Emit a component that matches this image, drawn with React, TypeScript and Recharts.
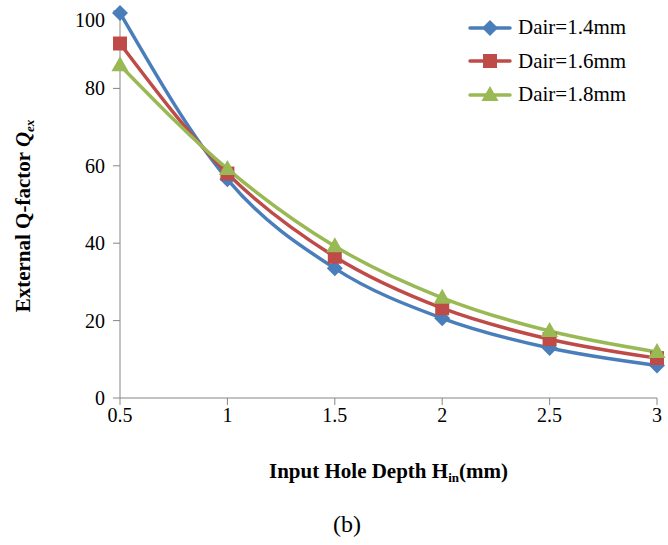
import { LineChart, Line, XAxis, YAxis, Legend, Label } from "recharts";

// input hole depth H_in (mm)
const depths = [0.5, 1, 1.5, 2, 2.5, 3];
// external Q-factor for each air gap
const dair14 = [99.5, 56.5, 33.5, 20.6, 12.9, 8.4];
const dair16 = [91.6, 58.0, 36.5, 23.2, 15.2, 10.3];
const dair18 = [86.0, 59.2, 39.2, 25.9, 17.3, 11.9];
const xTicks = [0.5, 1, 1.5, 2, 2.5, 3];
const yTicks = [0, 20, 40, 60, 80, 100];

const seriesNames = ["Dair=1.4mm", "Dair=1.6mm", "Dair=1.8mm"];
const colors = ["#4A7EBB", "#BE4B48", "#98B954"];

const data = depths.map((d, i) => ({
  depth: d,
  a: dair14[i],
  b: dair16[i],
  c: dair18[i],
}));

const FONT = "Liberation Serif, Times New Roman, serif";

function Marker({ cx, cy, shape, color }: any) {
  if (cx == null || cy == null) return null;
  if (shape === "diamond") {
    const r = 8;
    return <path d={`M${cx},${cy - r}L${cx + r},${cy}L${cx},${cy + r}L${cx - r},${cy}Z`} fill={color} />;
  }
  if (shape === "square") {
    const r = 7;
    return <rect x={cx - r} y={cy - r} width={r * 2} height={r * 2} fill={color} />;
  }
  const h = 15;
  return <path d={`M${cx},${cy - h * 0.6}L${cx + 8.5},${cy + h * 0.4}L${cx - 8.5},${cy + h * 0.4}Z`} fill={color} />;
}

const shapes = ["diamond", "square", "triangle"];

function XTick({ x, y, payload }: any) {
  return (
    <g>
      <line x1={x} x2={x} y1={y - 8} y2={y - 1} stroke="#868686" />
      <text x={x} y={y + 16} textAnchor="middle" fontFamily={FONT} fontSize={20} fill="#000">
        {payload.value}
      </text>
    </g>
  );
}

function YTick({ x, y, payload }: any) {
  // the top label sits a little lower in the original
  const dy = payload.value === 100 ? 9 : 0;
  return (
    <text x={x - 6} y={y + 7 + dy} textAnchor="end" fontFamily={FONT} fontSize={20} fill="#000">
      {payload.value}
    </text>
  );
}

function LegendBox() {
  return (
    <div style={{ fontFamily: FONT, fontSize: 21, color: "#000" }}>
      {seriesNames.map((n, i) => (
        <div key={n} style={{ display: "flex", alignItems: "center", height: 33.5 }}>
          <svg width={44} height={20} style={{ marginRight: 6 }}>
            <line x1={2} x2={42} y1={10} y2={10} stroke={colors[i]} strokeWidth={3.5} strokeLinecap="round" />
            <Marker cx={22} cy={10} shape={shapes[i]} color={colors[i]} />
          </svg>
          <span>{n}</span>
        </div>
      ))}
    </div>
  );
}

export default function App() {
  return (
    <div style={{ position: "absolute", left: 0, top: 0, background: "#fff" }}>
      <LineChart width={668} height={545} data={data} margin={{ top: 11, right: 11, left: 0, bottom: 117 }}>
        <XAxis
          dataKey="depth"
          type="number"
          domain={[0.5, 3]}
          ticks={xTicks}
          stroke="#868686"
          tickLine={false}
          tick={<XTick />}
          height={30}
        >
          <Label
            content={({ viewBox }: any) => (
              <g fontFamily={FONT} fill="#000">
                <text x={viewBox.x + viewBox.width / 2} y={viewBox.y + 80} textAnchor="middle" fontSize={21} fontWeight="bold">
                  Input Hole Depth H
                  <tspan fontSize={13} dy={4}>in</tspan>
                  <tspan dy={-4}>(mm)</tspan>
                </text>
                <text x={347} y={viewBox.y + 134} textAnchor="middle" fontSize={24}>
                  (b)
                </text>
              </g>
            )}
          />
        </XAxis>
        <YAxis
          domain={[0, 100]}
          ticks={yTicks}
          width={120}
          stroke="#868686"
          tickSize={7}
          tick={<YTick />}
        >
          <Label
            content={() => (
              <text
                transform="translate(30,216) rotate(-90)"
                textAnchor="middle"
                fontFamily={FONT}
                fontSize={21}
                fontWeight="bold"
                fill="#000"
              >
                External Q-factor{" "}
                <tspan fontStyle="italic">Q</tspan>
                <tspan fontStyle="italic" fontSize={13} dy={4}>ex</tspan>
              </text>
            )}
          />
        </YAxis>
        <Legend
          layout="vertical"
          align="center"
          verticalAlign="middle"
          content={<LegendBox />}
          wrapperStyle={{ position: "absolute", left: 468, top: 11, width: 200 }}
        />
        {["a", "b", "c"].map((k, i) => (
          <Line
            key={k}
            dataKey={k}
            name={seriesNames[i]}
            type="monotone"
            stroke={colors[i]}
            strokeWidth={3.5}
            dot={(p: any) => <Marker key={`${k}-${p.index}`} cx={p.cx} cy={p.cy} shape={shapes[i]} color={colors[i]} />}
            activeDot={false}
            isAnimationActive={false}
          />
        ))}
      </LineChart>
    </div>
  );
}
